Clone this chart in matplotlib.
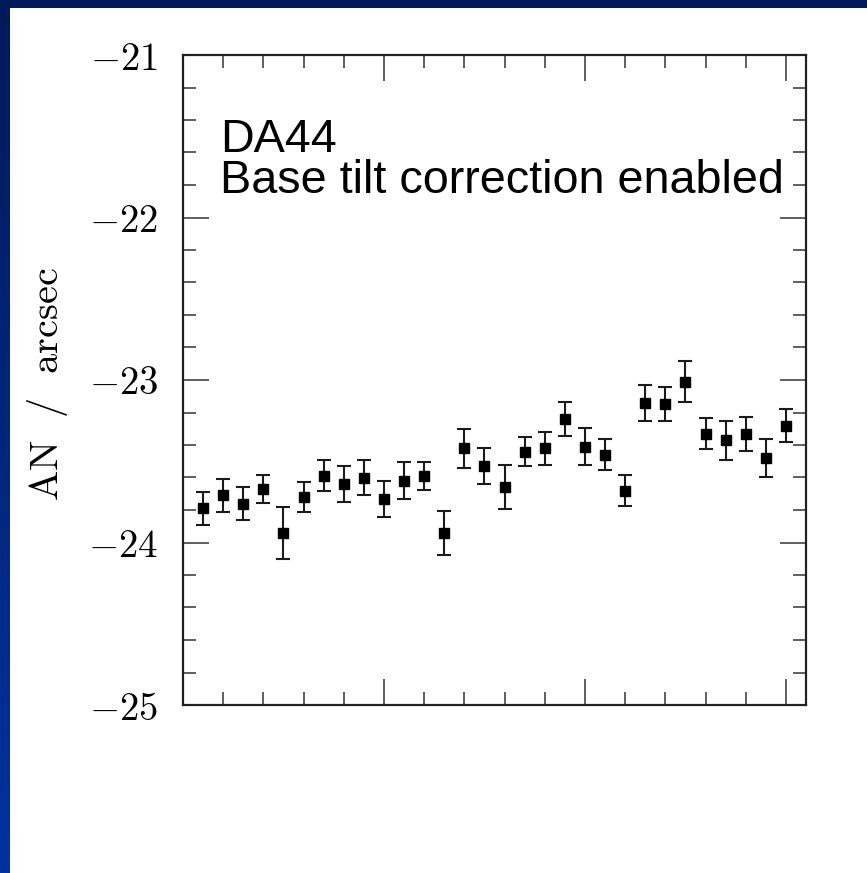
import matplotlib
matplotlib.use('Agg')
import matplotlib.pyplot as plt
import numpy as np
from matplotlib.ticker import FixedLocator, MultipleLocator, NullFormatter

plt.rcParams.update({'mathtext.fontset': 'cm', 'font.family': 'DejaVu Serif'})

idx = np.arange(1, 31)
an = [-23.79, -23.71, -23.76, -23.67, -23.94, -23.72, -23.59, -23.64, -23.60, -23.73,
      -23.62, -23.59, -23.94, -23.42, -23.53, -23.66, -23.44, -23.42, -23.24, -23.41,
      -23.46, -23.68, -23.14, -23.15, -23.01, -23.33, -23.37, -23.33, -23.48, -23.28]
an_err = [0.10, 0.10, 0.10, 0.085, 0.16, 0.095, 0.095, 0.11, 0.11, 0.11,
          0.115, 0.085, 0.135, 0.12, 0.11, 0.135, 0.09, 0.10, 0.105, 0.115,
          0.095, 0.095, 0.11, 0.105, 0.125, 0.095, 0.12, 0.105, 0.115, 0.10]
yticks = [-25, -24, -23, -22, -21]
ytick_labels = [r'$-25$', r'$-24$', r'$-23$', r'$-22$', r'$-21$']

fig = plt.figure(figsize=(8.67, 8.73), dpi=100)
fig.patch.set_facecolor('white')

# slide frame: navy band on top, blue gradient on the left
top = fig.add_axes([0, 1 - 8 / 873, 1, 8 / 873])
top.axis('off')
top.add_patch(plt.Rectangle((0, 0), 1, 1, color='#001b5c', transform=top.transAxes))
left = fig.add_axes([0, 0, 10 / 867, 1])
left.axis('off')
grad = np.linspace(0, 1, 256)[:, None]
c0 = np.array([0.0, 0.10, 0.35])
c1 = np.array([0.0, 0.20, 0.62])
img = c0[None, None, :] * (1 - grad[:, :, None]) + c1[None, None, :] * grad[:, :, None]
left.imshow(img, aspect='auto', extent=(0, 1, 0, 1), origin='upper')
left.set_xlim(0, 1)
left.set_ylim(0, 1)

ax = fig.add_axes([183 / 867, 168 / 873, 623 / 867, 650 / 873])
ax.errorbar(idx, an, yerr=an_err, fmt='s', color='black', ms=6.8, mec='black',
            ecolor='#1a1a1a', elinewidth=1.5, capsize=4.8, capthick=1.5)

ax.set_xlim(0, 31)
ax.set_ylim(-25, -21)
ax.xaxis.set_major_locator(FixedLocator([0, 10, 20, 30]))
ax.xaxis.set_minor_locator(MultipleLocator(2))
ax.xaxis.set_major_formatter(NullFormatter())
ax.yaxis.set_major_locator(FixedLocator(yticks))
ax.set_yticklabels(ytick_labels)
ax.yaxis.set_minor_locator(MultipleLocator(0.2))

ax.tick_params(which='both', direction='in', top=True, right=True, color='#444444', width=1.2)
ax.tick_params(which='major', length=18.5, pad=18, labelsize=28)
ax.tick_params(which='minor', length=9.5)
for s in ax.spines.values():
    s.set_linewidth(1.6)
    s.set_color('#222222')

fig.text(48 / 867, 1 - 384 / 873, r'$\mathrm{AN\ \ /\ \ arcsec}$', rotation=90,
         ha='center', va='center', fontsize=29)

ax.text(0.059, 0.788, 'DA44\nBase tilt correction enabled', transform=ax.transAxes,
        family='Liberation Sans', fontsize=33.7, va='baseline', ha='left',
        linespacing=0.9)

fig.savefig('out.png', dpi=100)
